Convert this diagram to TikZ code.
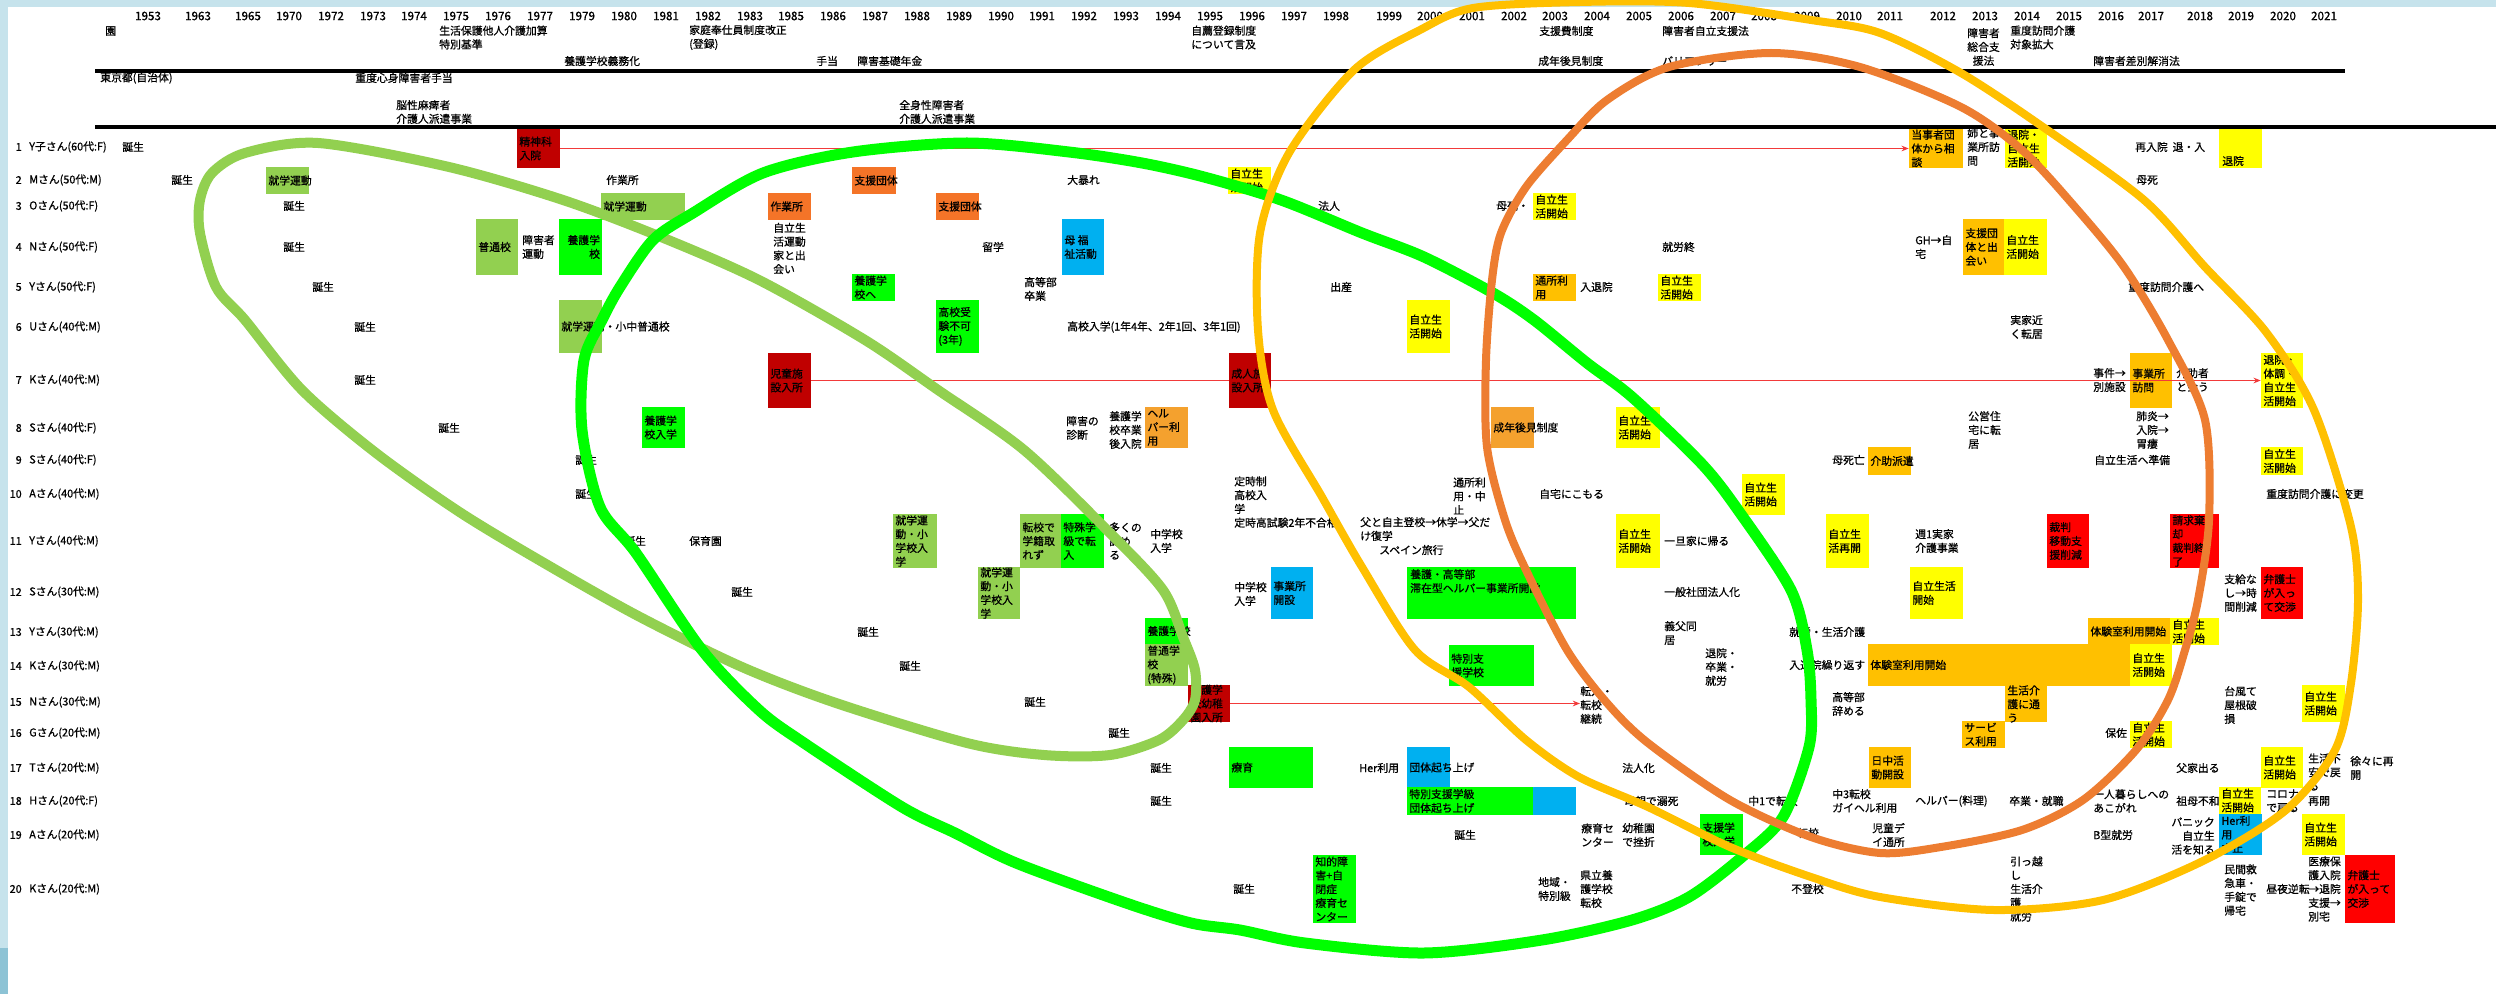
\documentclass[tikz,border=0pt]{standalone}
\usepackage{fontspec}
\setmainfont{Noto Sans CJK JP}[FakeBold=0.7]
\usetikzlibrary{fit,arrows.meta}
\definecolor{dred}{HTML}{C00000}
\definecolor{rred}{HTML}{FF0000}
\definecolor{lgreen}{HTML}{92D050}
\definecolor{bgreen}{HTML}{00FF00}
\definecolor{orng}{HTML}{F47428}
\definecolor{ambr}{HTML}{F4A12E}
\definecolor{gold}{HTML}{FFC000}
\definecolor{yell}{HTML}{FFFF00}
\definecolor{blu}{HTML}{00B0F0}
\definecolor{ringor}{HTML}{ED7D31}
\definecolor{bgblue}{HTML}{C6E3EC}
\definecolor{bgdark}{HTML}{8DC3D5}
\definecolor{arrowred}{HTML}{F23A3A}
\newcommand\tfont{\fontsize{7.7}{9.8}\selectfont}
\newcommand\TX[4]{\node[tt] (#1) at (#2,#3) {#4};}
\newcommand\BX[7]{\node[cbx, fill=#2, fit={(#3,#4) (#5,#6)}] (#1) {};
  \node[tt, xshift=0.6mm] (#1t) at (#1.west) {#7};}
\tikzset{
  tt/.style={font=\tfont, inner sep=0pt, anchor=west, align=left},
  yr/.style={font=\fontsize{8.3}{9}\selectfont, inner sep=0pt},
  cbx/.style={inner sep=0pt, draw=none},
  rule/.style={line width=1mm},
  rl/.style={draw=arrowred, line width=0.45mm},
  rla/.style={rl, -{Stealth[length=1.8mm,width=1.4mm]}},
  ring/.style={line width=#1, line join=round, line cap=round},
}
\begin{document}
\begin{tikzpicture}[x=0.25mm,y=-0.25mm]
\useasboundingbox (0,0) rectangle (2496,994);
\fill[white] (0,0) rectangle (2496,994);
\fill[bgblue] (0,0) rectangle (2496,7);
\fill[bgblue] (0,0) rectangle (8,994);
\fill[bgdark] (0,948) rectangle (8,994);

% years
\foreach \x/\yr in {148/1953,198/1963,248/1965,289/1970,331/1972,373/1973,414/1974,456/1975,498/1976,540/1977,582/1979,624/1980,666/1981,708/1982,750/1983,791/1985,833/1986,875/1987,917/1988,959/1989,1001/1990,1042/1991,1084/1992,1126/1993,1168/1994,1210/1995,1252/1996,1294/1997,1336/1998,1389/1999,1430/2000,1472/2001,1514/2002,1555/2003,1597/2004,1639/2005,1681/2006,1723/2007,1764/2008,1807/2009,1849/2010,1890/2011,1943/2012,1985/2013,2027/2014,2069/2015,2111/2016,2151/2017,2200/2018,2241/2019,2283/2020,2324/2021}
  \node[yr] (yr\yr) at (\x,16) {\yr};

% header
\TX{h1}{105}{31}{園}
\TX{h2}{439}{37.5}{生活保護他人介護加算\\特別基準}
\TX{h3}{564}{61}{養護学校義務化}
\TX{h4}{689}{37.5}{家庭奉仕員制度改正\\(登録)}
\TX{h5}{816}{61}{手当}
\TX{h6}{857}{61}{障害基礎年金}
\TX{h7}{1191}{37.5}{自薦登録制度\\について言及}
\TX{h8}{1539}{31}{支援費制度}
\TX{h9}{1662}{31}{障害者自立支援法}
\TX{h10}{1538}{61}{成年後見制度}
\TX{h11}{1662}{61}{バリアフリー}
\node[tt,align=center] (h12) at (1967,47) {障害者\\総合支\\援法};
\TX{h13}{2010}{37.5}{重度訪問介護\\対象拡大}
\TX{h14}{2093}{61}{障害者差別解消法}
\draw[rule] (95,71) -- (2345,71);
\TX{h15}{100}{78}{東京都(自治体)}
\TX{h16}{355}{78}{重度心身障害者手当}
\TX{h17}{396}{112}{脳性麻痺者\\介護人派遣事業}
\TX{h18}{899}{112}{全身性障害者\\介護人派遣事業}
\draw[rule] (95,127) -- (2496,127);

% row labels
\foreach \n/\yy/\lab in {1/147/Y子さん(60代:F),2/180/Mさん(50代:M),3/206/Oさん(50代:F),4/247/Nさん(50代:F),5/287/Yさん(50代:F),6/327/Uさん(40代:M),7/380/Kさん(40代:M),8/428/Sさん(40代:F),9/460/Sさん(40代:F),10/494/Aさん(40代:M),11/541/Yさん(40代:M),12/592/Sさん(30代:M),13/632/Yさん(30代:M),14/666/Kさん(30代:M),15/702/Nさん(30代:M),16/733/Gさん(20代:M),17/768/Tさん(20代:M),18/801/Hさん(20代:F),19/835/Aさん(20代:M),20/889/Kさん(20代:M)}
  {\node[tt,anchor=east] (rn\n) at (22,\yy) {\n};
   \node[tt] (rl\n) at (29,\yy) {\lab};}

% births
\foreach \n/\x/\yy in {1/122/147,2/171/180,3/283/206,4/283/247,5/312/287,6/354/327,7/354/380,8/438/428,9/575/460,10/575/494,11/624/541,12/731/592,13/857/632,14/899/666,15/1024/702,16/1108/733,17/1150/768,18/1150/801,19/1454/835,20/1233/889}
  \node[tt] (b\n) at (\x,\yy) {誕生};

% row 1
\BX{seishin}{dred}{517}{129}{560}{168}{精神科\\入院}
\BX{touji}{gold}{1909}{129}{1963}{168}{当事者団\\体から相\\談}
\TX{r1a}{1967}{147}{姉と事\\業所訪\\問}
\BX{r1y}{yell}{2005}{129}{2047}{168}{退院・\\自立生\\活開始}
\TX{r1b}{2135}{147}{再入院\ \ 退・入}
\node[cbx, fill=yell, fit={(2219,129) (2262,168)}] (r1z) {};
\TX{r1zt}{2222}{161}{退院}

% row 2
\BX{r2a}{lgreen}{266}{167}{309}{194}{就学運動}
\TX{r2b}{606}{180}{作業所}
\BX{r2c}{orng}{852}{167}{896}{194}{支援団体}
\TX{r2d}{1067}{180}{大暴れ}
\BX{r2e}{yell}{1228}{167}{1271}{194}{自立生\\活開始}
\TX{r2f}{2136}{180}{母死}

% row 3
\BX{r3a}{lgreen}{601}{193}{685}{220}{就学運動}
\BX{r3b}{orng}{768}{193}{811}{220}{作業所}
\BX{r3c}{orng}{936}{193}{979}{220}{支援団体}
\TX{r3d}{1318}{206}{法人}
\TX{r3e}{1496}{206}{母死・}
\BX{r3f}{yell}{1533}{193}{1576}{220}{自立生\\活開始}

% row 4
\BX{r4a}{lgreen}{476}{219}{518}{275}{普通校}
\TX{r4b}{522}{247}{障害者\\運動}
\node[cbx, fill=bgreen, fit={(559,219) (602,275)}] (r4c) {};
\node[tt, align=right, anchor=east, xshift=-0.5mm] (r4ct) at (r4c.east) {養護学\\校};
\TX{r4d}{773}{248.5}{自立生\\活運動\\家と出\\会い}
\TX{r4e}{982}{247}{留学}
\BX{r4f}{blu}{1062}{219}{1104}{275}{母\ 福\\祉活動}
\TX{r4g}{1662}{247}{就労終}
\TX{r4h}{1915}{247}{GH→自\\宅}
\BX{r4i}{gold}{1963}{219}{2004}{275}{支援団\\体と出\\会い}
\BX{r4j}{yell}{2004}{219}{2047}{275}{自立生\\活開始}

% row 5
\BX{r5a}{bgreen}{852}{274}{895}{301}{養護学\\校へ}
\TX{r5b}{1024}{289}{高等部\\卒業}
\TX{r5c}{1330}{287}{出産}
\BX{r5d}{gold}{1533}{274}{1576}{301}{通所利\\用}
\TX{r5e}{1580}{287}{入退院}
\BX{r5f}{yell}{1658}{274}{1701}{301}{自立生\\活開始}
\TX{r5g}{2128}{287}{重度訪問介護へ}

% row 6
\BX{r6a}{lgreen}{559}{300}{602}{353}{就学運動・小中普通校}
\BX{r6b}{bgreen}{936}{300}{979}{353}{高校受\\験不可\\(3年)}
\TX{r6c}{1067}{327}{高校入学(1年4年、2年1回、3年1回)}
\BX{r6d}{yell}{1407}{300}{1450}{353}{自立生\\活開始}
\TX{r6e}{2010}{327}{実家近\\く転居}

% row 7
\BX{jidou}{dred}{768}{353}{811}{408}{児童施\\設入所}
\BX{seijin}{dred}{1229}{353}{1271}{408}{成人施\\設入所}
\TX{r7a}{2093}{380}{事件→\\別施設}
\BX{r7b}{gold}{2130}{353}{2172}{408}{事業所\\訪問}
\TX{r7c}{2176}{380}{介助者\\と会う}
\BX{taiin}{yell}{2261}{353}{2303}{408}{退院・\\体調・\\自立生\\活開始}

% row 8
\BX{r8a}{bgreen}{642}{407}{685}{448}{養護学\\校入学}
\TX{r8b}{1066}{428}{障害の\\診断}
\TX{r8c}{1109}{430}{養護学\\校卒業\\後入院}
\BX{r8d}{ambr}{1145}{407}{1188}{448}{ヘル\\パー利\\用}
\BX{r8e}{ambr}{1491}{407}{1534}{448}{成年後見制度}
\BX{r8f}{yell}{1616}{407}{1660}{448}{自立生\\活開始}
\TX{r8g}{1968}{430}{公営住\\宅に転\\居}
\TX{r8h}{2136}{430}{肺炎→\\入院→\\胃瘻}

% row 9
\TX{r9a}{1832}{460}{母死亡}
\BX{r9b}{gold}{1868}{447}{1911}{475}{介助派遣}
\TX{r9c}{2094}{460}{自立生活へ準備}
\BX{r9d}{yell}{2261}{447}{2303}{475}{自立生\\活開始}

% row 10
\TX{r10a}{1234}{502}{定時制\\高校入\\学\\定時高試験2年不合格}
\TX{r10b}{1453}{496}{通所利\\用・中\\止}
\TX{r10c}{1539}{494}{自宅にこもる}
\BX{r10d}{yell}{1742}{474}{1785}{515}{自立生\\活開始}
\TX{r10e}{2266}{494}{重度訪問介護に変更}

% row 11
\TX{r11a}{689}{541}{保育園}
\BX{r11b}{lgreen}{893}{514}{937}{568}{就学運\\動・小\\学校入\\学}
\BX{r11c}{lgreen}{1020}{514}{1061}{568}{転校で\\学籍取\\れず}
\BX{r11d}{bgreen}{1061}{514}{1104}{568}{特殊学\\級で転\\入}
\TX{r11e}{1109}{541}{多くの\\認め\\る}
\TX{r11f}{1150}{541}{中学校\\入学}
\TX{r11g}{1360}{529}{父と自主登校→休学→父だ\\け復学}
\TX{r11h}{1379}{550}{スペイン旅行}
\BX{r11i}{yell}{1616}{514}{1660}{568}{自立生\\活開始}
\TX{r11j}{1664}{541}{一旦家に帰る}
\BX{r11k}{yell}{1826}{514}{1869}{568}{自立生\\活再開}
\TX{r11l}{1915}{541}{週1実家\\介護事業}
\BX{r11m}{rred}{2047}{514}{2089}{568}{裁判\\移動支\\援削減}
\BX{r11n}{rred}{2170}{514}{2219}{568}{請求棄\\却\\裁判終\\了}

% row 12
\BX{r12a}{lgreen}{978}{567}{1020}{619}{就学運\\動・小\\学校入\\学}
\TX{r12b}{1234}{594}{中学校\\入学}
\BX{r12c}{blu}{1271}{567}{1313}{619}{事業所\\開設}
\node[cbx, fill=bgreen, fit={(1407,567) (1576,619)}] (r12d) {};
\node[tt, anchor=north west] (r12dt) at (1410,569) {養護・高等部\\滞在型ヘルパー事業所開設};
\TX{r12e}{1664}{592}{一般社団法人化}
\BX{r12f}{yell}{1910}{567}{1963}{619}{自立生活\\開始}
\TX{r12g}{2224}{593}{支給な\\し→時\\間削減}
\BX{r12h}{rred}{2261}{567}{2303}{619}{弁護士\\が入っ\\て交渉}

% row 13
\BX{r13a}{bgreen}{1145}{618}{1188}{644}{養護学校}
\TX{r13b}{1664}{633}{義父同\\居}
\TX{r13c}{1789}{632}{就労・生活介護}
\BX{r13d}{gold}{2088}{618}{2170}{645}{体験室利用開始}
\BX{r13e}{yell}{2170}{618}{2219}{645}{自立生\\活開始}

% row 14
\BX{r14a}{lgreen}{1145}{644}{1188}{686}{普通学\\校\\(特殊)}
\BX{r14b}{bgreen}{1449}{645}{1534}{686}{特別支\\援学校}
\TX{r14c}{1705}{667}{退院・\\卒業・\\就労}
\TX{r14d}{1789}{665}{入退院繰り返す}
\BX{r14e}{gold}{1868}{644}{2130}{686}{体験室利用開始}
\BX{r14f}{yell}{2130}{644}{2172}{686}{自立生\\活開始}

% row 15
\BX{shitai}{dred}{1188}{685}{1230}{722}{養護学\\校幼稚\\園入所}
\TX{ten15}{1580}{705}{転入・\\転校・\\継続}
\TX{r15a}{1832}{704}{高等部\\辞める}
\BX{r15b}{gold}{2005}{686}{2047}{722}{生活介\\護に通\\う}
\TX{r15c}{2224}{705}{台風て\\屋根破\\損}
\BX{r15d}{yell}{2302}{685}{2345}{722}{自立生\\活開始}

% row 16
\BX{r16a}{gold}{1962}{721}{2005}{748}{サービ\\ス利用}
\TX{r16b}{2105}{733}{保佐}
\BX{r16c}{yell}{2130}{721}{2172}{748}{自立生\\活開始}

% row 17
\BX{r17a}{bgreen}{1229}{747}{1313}{788}{療育}
\TX{r17b}{1359}{768}{Her利用}
\BX{r17c}{blu}{1407}{747}{1450}{788}{団体起ち上げ}
\TX{r17d}{1622}{768}{法人化}
\BX{r17e}{gold}{1869}{747}{1911}{788}{日中活\\動開設}
\TX{r17f}{2176}{768}{父家出る}
\BX{r17g}{yell}{2261}{747}{2303}{788}{自立生\\活開始}
\TX{r17h}{2308}{772}{生活不\\安で戻\\る}
\TX{r17i}{2350}{768}{徐々に再\\開}

% row 18
\BX{r18a}{bgreen}{1407}{787}{1533}{815}{特別支援学級\\団体起ち上げ}
\node[cbx, fill=blu, fit={(1533,787) (1576,815)}] (r18b) {};
\TX{r18c}{1624}{801}{母親で溺死}
\TX{r18d}{1748}{801}{中1で転校}
\TX{r18e}{1832}{801}{中3転校\\ガイヘル利用}
\TX{r18f}{1915}{801}{ヘルパー(料理)}
\TX{r18g}{2009}{801}{卒業・就職}
\TX{r18h}{2093}{801}{一人暮らしへの\\あこがれ}
\TX{r18i}{2176}{801}{祖母不和}
\BX{r18j}{yell}{2219}{787}{2261}{814}{自立生\\活開始}
\TX{r18k}{2266}{801}{コロナ\\で戻る}
\TX{r18l}{2308}{801}{再開}

% row 19
\TX{r19a}{1581}{835}{療育セ\\ンター}
\TX{r19b}{1622}{835}{幼稚園\\で挫折}
\BX{r19c}{bgreen}{1700}{814}{1743}{855}{支援学\\校入学}
\TX{r19d}{1797}{833}{転校}
\TX{r19e}{1872}{835}{児童デ\\イ通所}
\TX{r19f}{2093}{835}{B型就労}
\node[tt, anchor=east, align=right] (r19g) at (2215,836) {パニック\\自立生\\活を知る};
\BX{r19h}{blu}{2219}{814}{2262}{855}{Her利\\用\\中止}
\BX{r19i}{yell}{2302}{814}{2345}{855}{自立生\\活開始}

% row 20
\BX{r20a}{bgreen}{1313}{855}{1356}{923}{知的障\\害+自\\閉症\\療育セ\\ンター}
\TX{r20b}{1538}{889}{地域・\\特別級}
\TX{r20c}{1580}{889}{県立養\\護学校\\転校}
\TX{r20d}{1791}{889}{不登校}
\TX{r20e}{2010}{889}{引っ越\\し\\生活介\\護\\就労}
\TX{r20f}{2224}{890}{民間救\\急車・\\手錠で\\帰宅}
\TX{r20g}{2266}{889}{昼夜逆転}
\TX{r20h}{2308}{889}{医療保\\護入院\\→退院\\支援→\\別宅}
\BX{r20i}{rred}{2345}{855}{2395}{923}{弁護士\\が入って\\交渉}

% red connectors
\draw[rla] (seishin.east) -- (touji.west);
\draw[rl] (jidou.east) -- (seijin.west);
\draw[rla] (seijin.east) -- (taiin.west);
\draw[rla] (shitai.east) -- (shitai.east -| ten15.west);

% rings
\draw[ring=2.5mm, lgreen] plot[smooth cycle, tension=0.5] coordinates {
 (318,143) (449,167) (563,200) (661,237) (759,280) (865,340) (938,390) (1024,450) (1110,533) (1163,590) (1183,637) (1195,670) (1195,700) (1183,720) (1159,740) (1110,755) (1044,755) (967,743) (836,703) (742,667) (640,617) (551,567) (461,513) (376,453) (302,390) (245,320) (216,287) (200,233) (200,200) (212,173) (245,153)};
\draw[ring=2.75mm, bgreen] plot[smooth cycle, tension=0.5] coordinates {
 (967,143) (1069,152) (1142,163) (1204,177) (1281,200) (1362,233) (1424,257) (1493,293) (1534,320) (1587,363) (1632,397) (1701,463) (1738,510) (1791,590) (1807,650) (1811,700) (1809,747) (1783,817) (1742,857) (1689,897) (1632,920) (1542,940) (1424,953) (1305,943) (1240,930) (1191,923) (1126,903) (1016,863) (955,833) (902,807) (804,743) (759,710) (702,650) (636,553) (600,507) (582,430) (584,360) (602,320) (620,287) (653,240) (693,213) (763,173) (853,152)};
\draw[ring=2mm, gold] plot[smooth cycle, tension=0.5] coordinates {
 (1289,153) (1354,70) (1420,30) (1473,8) (1580,2) (1689,3) (1811,20) (1880,33) (1961,73) (2043,127) (2144,200) (2205,267) (2266,332) (2314,410) (2351,527) (2358,600) (2351,683) (2335,750) (2286,810) (2205,860) (2103,900) (1994,910) (1880,897) (1811,877) (1730,847) (1648,807) (1579,777) (1526,740) (1469,687) (1415,650) (1362,567) (1322,497) (1273,410) (1258,330) (1260,233)};
\draw[ring=2mm, ringor] plot[smooth cycle, tension=0.5] coordinates {
 (1771,53) (1860,67) (1961,107) (2022,150) (2075,207) (2124,267) (2168,340) (2205,420) (2209,520) (2198,600) (2185,650) (2168,700) (2136,750) (2083,800) (2022,830) (1941,847) (1880,853) (1811,837) (1730,800) (1648,743) (1607,703) (1567,650) (1526,570) (1505,520) (1487,447) (1486,360) (1492,280) (1501,233) (1526,187) (1567,140) (1607,100) (1669,67)};
\end{tikzpicture}
\end{document}
